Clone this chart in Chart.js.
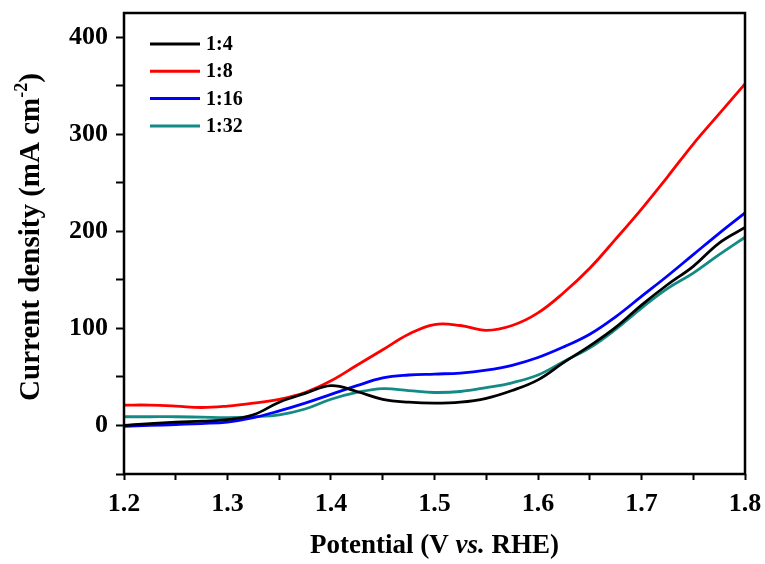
<!DOCTYPE html>
<html>
<head>
<meta charset="utf-8">
<script src="https://cdn.jsdelivr.net/npm/chart.js@4"></script>
<style>
  html, body { margin: 0; padding: 0; background: #fff; }
  #wrap { width: 765px; height: 564px; }
</style>
</head>
<body>
<div id="wrap"><canvas id="lsv"></canvas></div>
<script>
// Data
const potential = [1.2, 1.225, 1.25, 1.275, 1.3, 1.325, 1.35, 1.375, 1.4, 1.425, 1.45, 1.475, 1.5,
                   1.525, 1.55, 1.575, 1.6, 1.625, 1.65, 1.675, 1.7, 1.725, 1.75, 1.775, 1.8];
const ratio4  = [0, 2, 3.5, 4.5, 6, 11, 24, 33, 41, 35, 27, 24, 23,
                 24, 28, 36, 47, 65, 82, 101, 124, 145, 164, 188, 204];
const ratio8  = [21, 21, 20, 18.5, 20, 23, 27, 34, 46, 62, 78, 94, 104,
                 103, 98, 103, 116, 137, 162, 192, 223, 256, 290, 321, 352];
const ratio16 = [-1, 0, 1, 2, 3.5, 8, 15, 23, 32, 41, 49, 52, 53,
                 54, 57, 62, 70, 81, 94, 112, 133, 154, 176, 198, 219];
const ratio32 = [9, 9, 9, 8.5, 8, 9, 11, 17, 27, 34, 38, 36, 34,
                 35, 39, 44, 52, 66, 80, 99, 121, 141, 157, 176, 194];

const seriesNames = ['1:4', '1:8', '1:16', '1:32'];
const seriesColors = ['#000000', '#ff0000', '#0000ff', '#138a84'];
const xTickLabels = ['1.2', '1.3', '1.4', '1.5', '1.6', '1.7', '1.8'];
const yTickLabels = ['0', '100', '200', '300', '400'];

const FONT = "'Liberation Serif', 'Times New Roman', serif";

function toPoints(values) {
    return potential.map((v, i) => ({ x: v, y: values[i] }));
}

// Frame, in-plot legend and the two axis titles
const decor = {
    id: 'decor',
    afterDraw(chart) {
        const ctx = chart.ctx;
        const a = chart.chartArea;
        ctx.save();

        ctx.strokeStyle = '#000';
        ctx.lineWidth = 2.5;
        ctx.strokeRect(a.left, a.top, a.right - a.left, a.bottom - a.top);

        // legend
        ctx.font = `bold 20px ${FONT}`;
        ctx.textBaseline = 'middle';
        ctx.textAlign = 'left';
        chart.data.datasets.forEach((ds, i) => {
            const y = 44 + i * 27.3;
            ctx.strokeStyle = ds.borderColor;
            ctx.lineWidth = 3;
            ctx.beginPath();
            ctx.moveTo(150, y);
            ctx.lineTo(200, y);
            ctx.stroke();
            ctx.fillStyle = '#000';
            ctx.fillText(ds.label, 206, y + 1);
        });

        // x title: Potential (V vs. RHE)
        const bold = `bold 27px ${FONT}`;
        const boldIt = `italic bold 27px ${FONT}`;
        const xParts = [['Potential (V ', bold], ['vs.', boldIt], [' RHE)', bold]];
        let total = 0;
        xParts.forEach(p => { ctx.font = p[1]; total += ctx.measureText(p[0]).width; });
        let x = (a.left + a.right) / 2 - total / 2;
        ctx.fillStyle = '#000';
        ctx.textBaseline = 'alphabetic';
        xParts.forEach(p => {
            ctx.font = p[1];
            ctx.fillText(p[0], x, 553);
            x += ctx.measureText(p[0]).width;
        });

        // y title: Current density (mA cm-2)
        const yBold = `bold 29px ${FONT}`;
        const sup = `bold 18px ${FONT}`;
        const yParts = [['Current density (mA cm', yBold, 0], ['-2', sup, -12], [')', yBold, 0]];
        total = 0;
        yParts.forEach(p => { ctx.font = p[1]; total += ctx.measureText(p[0]).width; });
        ctx.translate(39, 237);
        ctx.rotate(-Math.PI / 2);
        x = -total / 2;
        yParts.forEach(p => {
            ctx.font = p[1];
            ctx.fillText(p[0], x, p[2]);
            x += ctx.measureText(p[0]).width;
        });
        ctx.restore();
    }
};

const ctx = document.getElementById('lsv').getContext('2d');
new Chart(ctx, {
    type: 'line',
    data: {
        datasets: [ratio4, ratio8, ratio16, ratio32].map((vals, i) => ({
            label: seriesNames[i],
            data: toPoints(vals),
            borderColor: seriesColors[i],
            borderWidth: 2.8,
            pointRadius: 0,
            fill: false,
            tension: 0.4
        }))
    },
    options: {
        responsive: true,
        maintainAspectRatio: false,
        animation: false,
        layout: { padding: { left: 0, right: 20, top: 13, bottom: 0 } },
        plugins: {
            legend: { display: false },
            tooltip: { enabled: false }
        },
        scales: {
            x: {
                type: 'linear',
                min: 1.2,
                max: 1.8,
                border: { display: false },
                grid: { drawOnChartArea: false, drawTicks: true, tickLength: 6, tickWidth: 2, tickColor: '#000' },
                afterBuildTicks: s => {
                    s.ticks = [];
                    for (let i = 0; i <= 12; i++) s.ticks.push({ value: 1.2 + i * 0.05 });
                },
                ticks: {
                    autoSkip: false,
                    maxRotation: 0,
                    color: '#000',
                    padding: 9,
                    font: { family: FONT, size: 26, weight: 'bold' },
                    callback: (v) => {
                        const label = v.toFixed(1);
                        return (Math.round(v * 100) % 10 === 0 && xTickLabels.includes(label)) ? label : '';
                    }
                },
                afterFit: s => {
                    s.height = 90;
                    s.paddingLeft = 0;
                    s.paddingRight = 0;
                }
            },
            y: {
                type: 'linear',
                min: -50,
                max: 425,
                border: { display: false },
                grid: { drawOnChartArea: false, drawTicks: true, tickLength: 8, tickWidth: 2, tickColor: '#000' },
                afterBuildTicks: s => {
                    s.ticks = [];
                    for (let v = -50; v <= 400; v += 50) s.ticks.push({ value: v });
                },
                ticks: {
                    autoSkip: false,
                    color: '#000',
                    padding: 8,
                    font: { family: FONT, size: 26, weight: 'bold' },
                    callback: (v) => yTickLabels.includes(String(v)) ? String(v) : ''
                },
                afterFit: s => {
                    s.width = 124;
                    s.paddingTop = 0;
                    s.paddingBottom = 0;
                }
            }
        }
    },
    plugins: [decor]
});
</script>
</body>
</html>
